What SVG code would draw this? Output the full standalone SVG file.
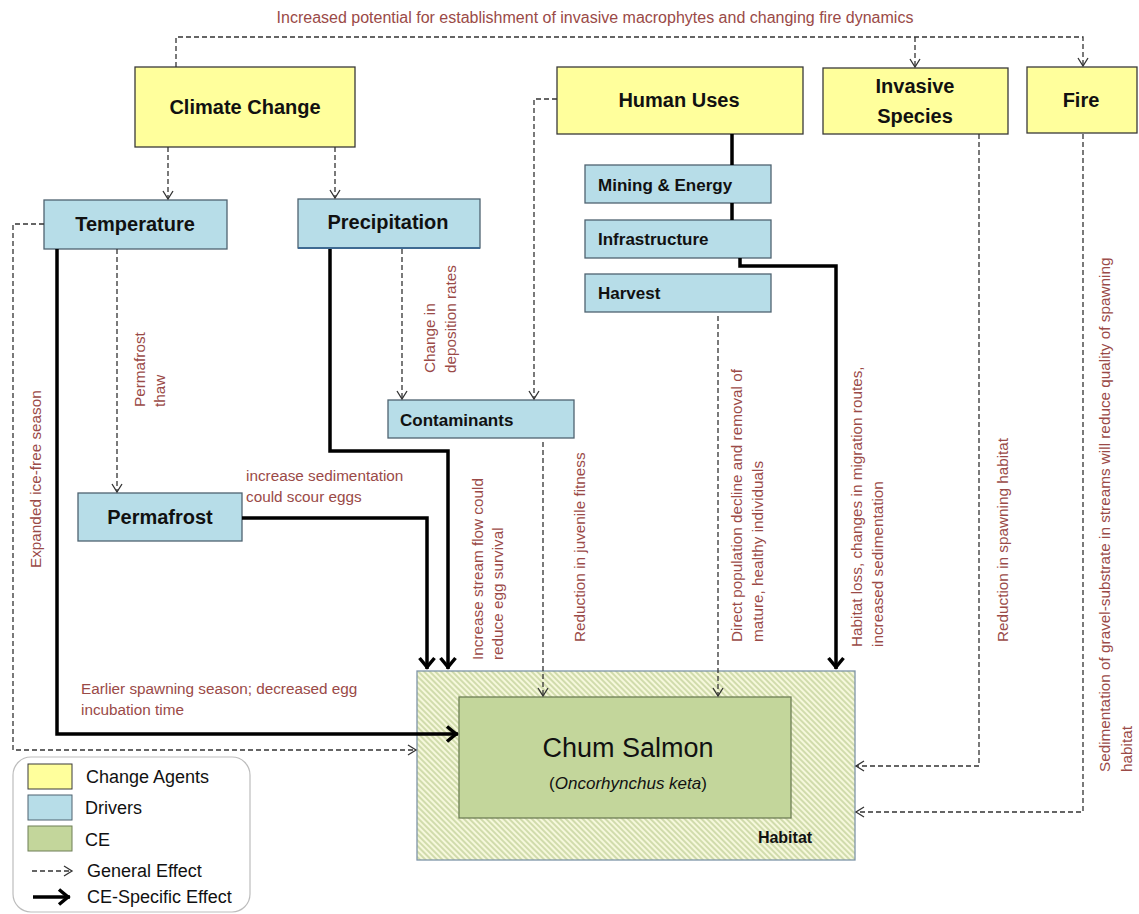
<svg xmlns="http://www.w3.org/2000/svg" width="1139" height="914" viewBox="0 0 1139 914">
<style>
.agent{fill:#ffff9c;stroke:#3a3a3a;stroke-width:1.3}
.driver{fill:#b7dde8;stroke:#4f6370;stroke-width:1.3}
.big{font-family:"Liberation Sans",Arial,sans-serif;font-weight:bold;font-size:20px;fill:#111;text-anchor:middle;dominant-baseline:central}
.small{font-family:"Liberation Sans",Arial,sans-serif;font-weight:bold;font-size:17px;fill:#111;dominant-baseline:central}
.lbl{font-family:"Liberation Sans",Arial,sans-serif;font-size:15.3px;fill:#9a4a47}
.gen{fill:none;stroke:#333;stroke-width:1.3;stroke-dasharray:5,3;marker-end:url(#oa)}
.spec{fill:none;stroke:#000;stroke-width:3.5;stroke-linejoin:miter}
.specA{marker-end:url(#fa)}
.leg{font-family:"Liberation Sans",Arial,sans-serif;font-size:18px;fill:#111;dominant-baseline:central}
</style>
<defs>
<marker id="oa" markerUnits="userSpaceOnUse" viewBox="-10 -7 12 14" refX="0" refY="0" markerWidth="12" markerHeight="14" orient="auto" overflow="visible">
<path d="M-8,-5 L0,0 L-8,5" fill="none" stroke="#333" stroke-width="1.3"/>
</marker>
<marker id="fa" markerUnits="userSpaceOnUse" viewBox="-14 -10 16 20" refX="0" refY="0" markerWidth="16" markerHeight="20" orient="auto" overflow="visible">
<path d="M-11,-7.5 L-2,0 L-11,7.5" fill="none" stroke="#000" stroke-width="3.5"/>
</marker>
<pattern id="hatch" patternUnits="userSpaceOnUse" width="4" height="4" patternTransform="rotate(-45)">
<rect width="4" height="4" fill="#f6f8dc"/>
<line x1="1" y1="0" x2="1" y2="4" stroke="#b8c98c" stroke-width="1.2"/>
</pattern>
</defs>

<rect width="1139" height="914" fill="#ffffff"/>

<text class="lbl" x="595" y="23" text-anchor="middle" style="font-size:16px">Increased potential for establishment of invasive macrophytes and changing fire dynamics</text>

<g id="habitat">
<rect x="417" y="671" width="438" height="189" fill="url(#hatch)" stroke="#7f95a8" stroke-width="1.3"/>
<text x="785" y="837" font-family="'Liberation Sans',Arial,sans-serif" font-weight="bold" font-size="16" fill="#111" text-anchor="middle" dominant-baseline="central">Habitat</text>
</g>
<g id="chum-salmon">
<rect x="459" y="697" width="332" height="121" fill="#c3d69b" stroke="#6f7f56" stroke-width="1.3"/>
<text x="628" y="748" font-family="'Liberation Sans',Arial,sans-serif" font-size="27" fill="#111" text-anchor="middle" dominant-baseline="central">Chum Salmon</text>
<text x="628" y="783" font-family="'Liberation Sans',Arial,sans-serif" font-size="17" fill="#111" text-anchor="middle" dominant-baseline="central">(<tspan font-style="italic">Oncorhynchus keta</tspan>)</text>
</g>

<g id="climate-change">
<rect class="agent" x="135" y="67" width="220" height="80"/>
<text class="big" x="245" y="107">Climate Change</text>
</g>
<g id="human-uses">
<rect class="agent" x="557" y="67" width="246" height="67"/>
<text class="big" x="679" y="100">Human Uses</text>
</g>
<g id="invasive-species">
<rect class="agent" x="823" y="68" width="185" height="66"/>
<text class="big" x="915" y="86">Invasive</text>
<text class="big" x="915" y="116">Species</text>
</g>
<g id="fire">
<rect class="agent" x="1027" y="67" width="110" height="66"/>
<text class="big" x="1081" y="100">Fire</text>
</g>
<g id="temperature">
<rect class="driver" x="44" y="200" width="183" height="49"/>
<text class="big" x="135" y="224">Temperature</text>
</g>
<g id="precipitation">
<rect class="driver" x="298" y="199" width="182" height="49"/>
<line x1="298" y1="248" x2="480" y2="248" stroke="#3e6a92" stroke-width="2"/>
<text class="big" x="388" y="222">Precipitation</text>
</g>
<g id="mining-energy">
<rect class="driver" x="585" y="165" width="186" height="38"/>
<text class="small" x="598" y="185">Mining &amp; Energy</text>
</g>
<g id="infrastructure">
<rect class="driver" x="585" y="220" width="186" height="38"/>
<text class="small" x="598" y="239">Infrastructure</text>
</g>
<g id="harvest">
<rect class="driver" x="585" y="274" width="186" height="38"/>
<text class="small" x="598" y="293">Harvest</text>
</g>
<g id="contaminants">
<rect class="driver" x="388" y="400" width="186" height="38"/>
<text class="small" x="400" y="420">Contaminants</text>
</g>
<g id="permafrost">
<rect class="driver" x="78" y="493" width="164" height="48"/>
<text class="big" x="160" y="517">Permafrost</text>
</g>

<g id="connectors">
<path class="gen" d="M176,67 V37 H1083 V66"/>
<path class="gen" d="M915,37 V67"/>
<path class="gen" d="M168,147 V199"/>
<path class="gen" d="M335,147 V198"/>
<path class="gen" d="M44,224 H13 V750 H416"/>
<path class="gen" d="M117,249 V492"/>
<path class="gen" d="M402,249 V399"/>
<path class="gen" d="M557,99 H534 V399"/>
<path class="gen" d="M543,442 V696"/>
<path class="gen" d="M718,316 V696"/>
<path class="gen" d="M979,134 V766 H856"/>
<path class="gen" d="M1083,134 V812 H856"/>
<path class="spec specA" d="M57,249 V734 H458"/>
<path class="spec specA" d="M330,249 V451 H448 V669"/>
<path class="spec specA" d="M242,518 H427 V669"/>
<path class="spec" d="M732,134 V165"/>
<path class="spec" d="M732,203 V220"/>
<path class="spec specA" d="M740,258 V266 H836 V669"/>
</g>

<g id="labels">
<text class="lbl" transform="translate(41,568) rotate(-90)">Expanded  ice-free season</text>
<text class="lbl" transform="translate(145,407) rotate(-90)"><tspan x="0" y="0">Permafrost</tspan><tspan x="0" y="20">thaw</tspan></text>
<text class="lbl" transform="translate(435,373) rotate(-90)"><tspan x="0" y="0">Change in</tspan><tspan x="0" y="21">deposition rates</tspan></text>
<text class="lbl" transform="translate(483,660) rotate(-90)"><tspan x="0" y="0">Increase stream flow could</tspan><tspan x="0" y="20">reduce egg  survival</tspan></text>
<text class="lbl" transform="translate(585,642) rotate(-90)">Reduction in juvenile fitness</text>
<text class="lbl" transform="translate(742,642) rotate(-90)"><tspan x="0" y="0">Direct population decline and removal of</tspan><tspan x="0" y="21">mature, healthy individuals</tspan></text>
<text class="lbl" transform="translate(862,647) rotate(-90)"><tspan x="0" y="0">Habitat loss, changes in migration routes,</tspan><tspan x="0" y="21">increased sedimentation</tspan></text>
<text class="lbl" transform="translate(1008,642) rotate(-90)">Reduction in spawning habitat</text>
<text class="lbl" transform="translate(1110,772) rotate(-90)"><tspan x="0" y="0">Sedimentation of gravel-substrate in streams will reduce quality of spawning</tspan><tspan x="0" y="22">habitat</tspan></text>
<text class="lbl" x="246" y="481">increase sedimentation</text>
<text class="lbl" x="246" y="502">could  scour eggs</text>
<text class="lbl" x="81" y="694">Earlier spawning season; decreased egg</text>
<text class="lbl" x="81" y="715">incubation time</text>
</g>

<g id="legend">
<rect x="13" y="757" width="237" height="155" rx="18" fill="#ffffff" stroke="#bdbdbd" stroke-width="1.2"/>
<rect x="28" y="764" width="44" height="25" fill="#ffff9c" stroke="#3a3a3a" stroke-width="1"/>
<rect x="28" y="795" width="44" height="25" fill="#b7dde8" stroke="#4f6370" stroke-width="1"/>
<rect x="28" y="826" width="44" height="25" fill="#c3d69b" stroke="#6f7f56" stroke-width="1"/>
<text class="leg" x="86" y="777">Change Agents</text>
<text class="leg" x="85" y="808">Drivers</text>
<text class="leg" x="85" y="840">CE</text>
<text class="leg" x="87" y="871">General Effect</text>
<text class="leg" x="87" y="897">CE-Specific Effect</text>
<path class="gen" d="M32,871 H72"/>
<path class="spec specA" d="M33,897 H70"/>
</g>
</svg>
